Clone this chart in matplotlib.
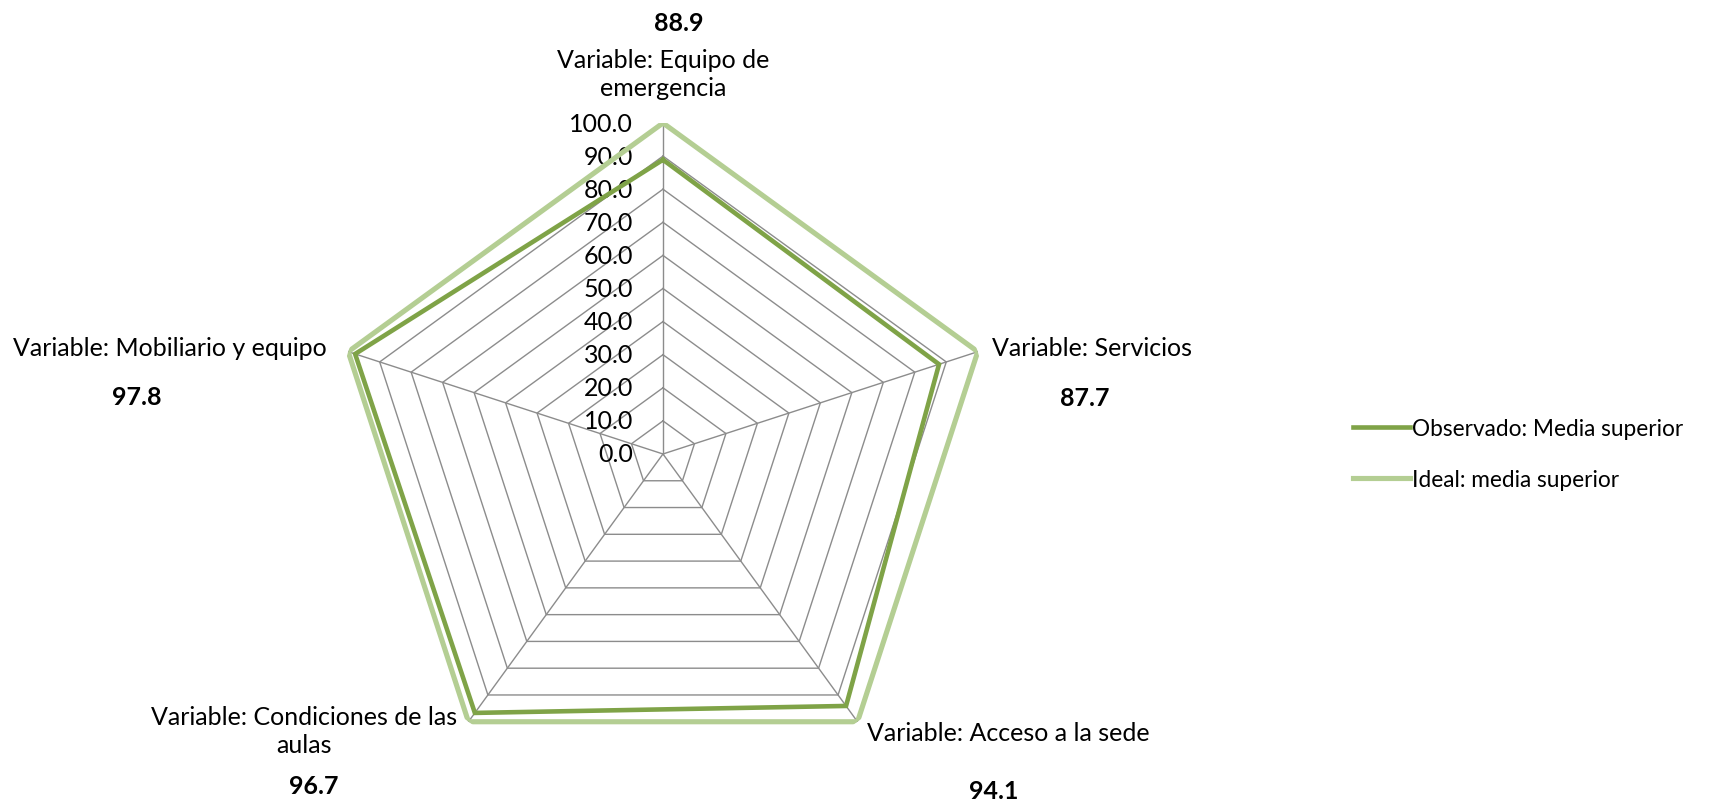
import numpy as np
import matplotlib
matplotlib.use("Agg")
import matplotlib.pyplot as plt

plt.rcParams['font.family'] = ['Lato', 'DejaVu Sans']

categories = ['Variable: Equipo de\nemergencia', 'Variable: Servicios', 'Variable: Acceso a la sede',
              'Variable: Condiciones de las\naulas', 'Variable: Mobiliario y equipo']
observado = [88.9, 87.7, 94.1, 96.7, 97.8]
ideal = [100.0, 100.0, 100.0, 100.0, 100.0]
levels = [0, 10, 20, 30, 40, 50, 60, 70, 80, 90, 100]

col_obs = '#7FA347'
col_ideal = '#B4CE93'
col_grid = '#8C8C8C'
fs = 18

fig = plt.figure(figsize=(17.14, 8.04), dpi=100)
ax = fig.add_axes([0.1937, 0.0224, 0.3862, 0.8234], projection='polar')
ax.set_theta_offset(np.pi / 2)
ax.set_theta_direction(-1)
ax.set_ylim(0, 100)
ax.axis('off')

n = len(categories)
angles = np.linspace(0, 2 * np.pi, n, endpoint=False)
closed = np.append(angles, angles[0])

# pentagon grid + spokes
for lv in levels[1:]:
    ax.plot(closed, [lv] * (n + 1), color=col_grid, lw=1.0, zorder=1)
for a in angles:
    ax.plot([a, a], [0, 100], color=col_grid, lw=1.0, zorder=1)

# radial tick labels along the top spoke
for lv in levels:
    ax.annotate(f'{lv:.1f}', xy=(0, lv), xytext=(-30, 0), textcoords='offset pixels',
                ha='right', va='center', fontsize=fs)

ax.plot(closed, ideal + ideal[:1], color=col_ideal, lw=3.7, zorder=3,
        label='Ideal: media superior', solid_joinstyle='miter')
ax.plot(closed, observado + observado[:1], color=col_obs, lw=3.3, zorder=4,
        label='Observado: Media superior', solid_joinstyle='miter')

# category labels (offsets in pixels from the 100 vertex)
lab_pos = [((0, 24), 'center', 'bottom'),
           ((14, 4), 'left', 'center'),
           ((9, -11), 'left', 'center'),
           ((-11, -9), 'right', 'center'),
           ((-21, 4), 'right', 'center')]
val_pos = [(16, 101), (107, -46), (136, -69), (-155, -64), (-211, -45)]

for i, a in enumerate(angles):
    off, ha, va = lab_pos[i]
    ax.annotate(categories[i], xy=(a, 100), xytext=off, textcoords='offset pixels',
                ha=ha, va=va, multialignment='center', fontsize=fs, linespacing=1.25,
                annotation_clip=False)
    ax.annotate(f'{observado[i]:.1f}', xy=(a, 100), xytext=val_pos[i], textcoords='offset pixels',
                ha='center', va='center', fontsize=fs, fontweight='bold', annotation_clip=False)

h, l = ax.get_legend_handles_labels()
fig.legend(h[::-1], l[::-1], loc='center left', bbox_to_anchor=(1353 / 1714, 349 / 804),
           frameon=False, fontsize=16.3, handlelength=2.5, handletextpad=0.12, labelspacing=1.3,
           borderpad=0, borderaxespad=0)

fig.savefig('out.png', dpi=100)
